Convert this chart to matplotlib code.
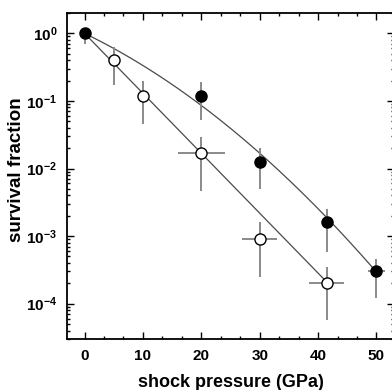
import numpy as np
import matplotlib
matplotlib.use("Agg")
import matplotlib.pyplot as plt
from matplotlib.ticker import LogLocator, MultipleLocator, NullFormatter

plt.rcParams["font.family"] = ["Liberation Sans", "DejaVu Sans"]
plt.rcParams["font.weight"] = "bold"
plt.rcParams["mathtext.fontset"] = "custom"
plt.rcParams["mathtext.rm"] = "Liberation Sans:bold"
plt.rcParams["mathtext.bf"] = "Liberation Sans:bold"

# filled circles
p_filled = [0, 20, 30, 41.5, 50]
s_filled = [1.0, 0.12, 0.0123, 0.0016, 3.0e-4]
s_filled_hi = [1.2, 0.188, 0.020, 0.0025, 4.6e-4]
s_filled_lo = [0.7, 0.053, 0.0049, 0.00059, 1.2e-4]
p_filled_err = [0, 0, 0, 0, 1.5]

# open circles
p_open = [5, 10, 20, 30, 41.5]
s_open = [0.40, 0.12, 0.0167, 0.0009, 2.0e-4]
s_open_hi = [0.62, 0.20, 0.029, 0.0016, 3.5e-4]
s_open_lo = [0.17, 0.046, 0.0046, 0.00025, 5.8e-5]
p_open_err = [0, 0, 4, 3, 3]

# fit curves: log10(S) = -a*P - b*P^2
fit_filled = (0.0418, 5.77e-4)
fit_open = (0.0887, 0.0)
fit_filled_range = (0, 50)
fit_open_range = (0, 41.5)


def yerr(s, lo, hi):
    s = np.asarray(s)
    return [s - np.asarray(lo), np.asarray(hi) - s]


fig = plt.figure(figsize=(3.92, 3.90), dpi=100)
ax = fig.add_axes([67 / 392, 1 - 339 / 390, 327 / 392, 326 / 390])

for (a, b), (p0, p1) in [(fit_filled, fit_filled_range), (fit_open, fit_open_range)]:
    p = np.linspace(p0, p1, 200)
    ax.plot(p, 10 ** (-a * p - b * p ** 2), color="#4a4a4a", lw=0.9, zorder=2)

ax.errorbar(p_filled, s_filled, yerr=yerr(s_filled, s_filled_lo, s_filled_hi),
            xerr=p_filled_err, fmt="o", color="#8a8a8a", ecolor="#8a8a8a",
            elinewidth=1.4, capsize=0, mfc="black", mec="black", ms=8, zorder=3)
ax.errorbar(p_open, s_open, yerr=yerr(s_open, s_open_lo, s_open_hi),
            xerr=p_open_err, fmt="o", color="#8a8a8a", ecolor="#8a8a8a",
            elinewidth=1.4, capsize=0, mfc="white", mec="black", mew=1.0,
            ms=8, zorder=3)

ax.set_yscale("log")
ax.set_xlim(-3, 53)
ax.set_ylim(3e-5, 2)
ax.xaxis.set_major_locator(MultipleLocator(10))
ax.xaxis.set_minor_locator(MultipleLocator(10 / 3))
ax.yaxis.set_major_locator(LogLocator(base=10, numticks=10))
ax.yaxis.set_minor_locator(LogLocator(base=10, subs=np.arange(2, 10), numticks=10))
ax.yaxis.set_minor_formatter(NullFormatter())

ax.tick_params(which="both", direction="in", top=True, right=True, width=1.0)
ax.tick_params(which="major", length=5, labelsize=11, pad=7)
ax.tick_params(which="minor", length=2.5)
for sp in ax.spines.values():
    sp.set_linewidth(1.3)

ax.set_xlabel("shock pressure (GPa)", fontsize=13, fontweight="bold", labelpad=8)
ax.set_ylabel("survival fraction", fontsize=13.5, fontweight="bold")
ax.yaxis.set_label_coords(-0.128, 0.518)

fig.savefig("out.png", dpi=100)
